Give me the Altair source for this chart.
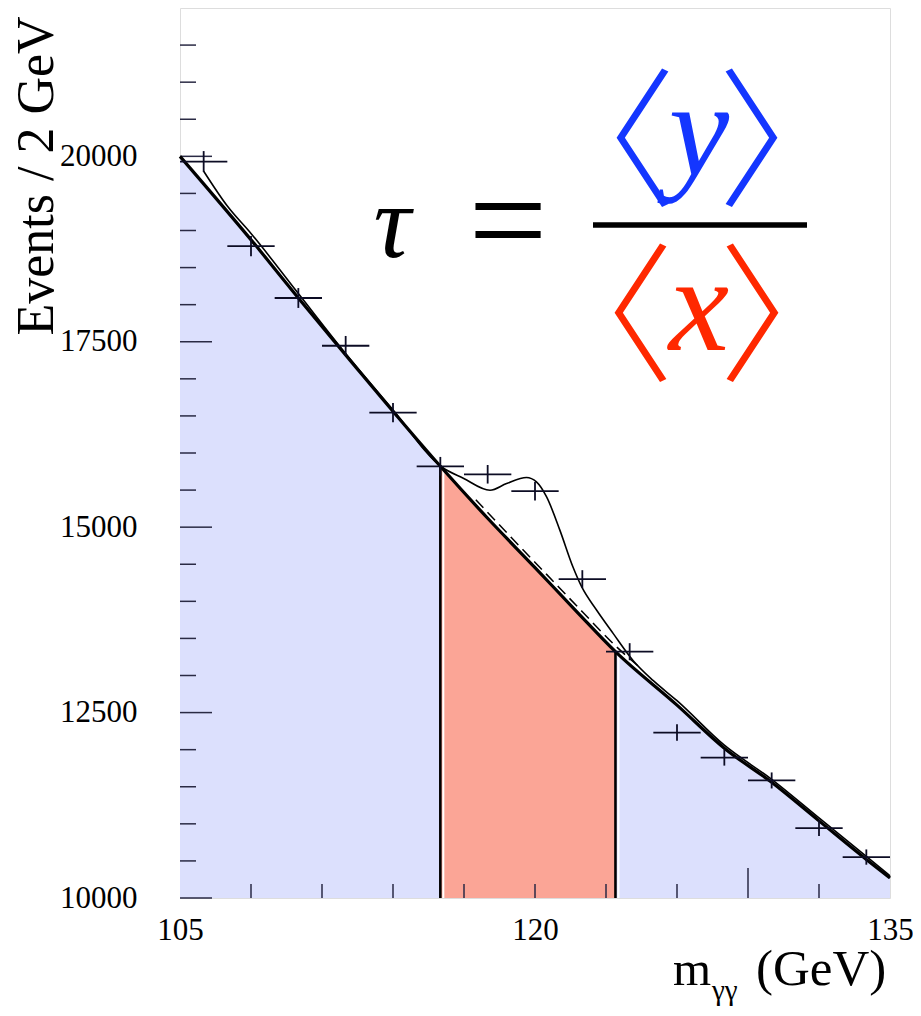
import altair as alt
import pandas as pd

# ---------------- data ----------------
bin_centers = [106, 108, 110, 112, 114, 116, 118, 120, 122, 124, 126, 128, 130, 132, 134]
counts = [19930, 18790, 18090, 17446, 16544, 15821, 15713, 15485, 14300, 13321, 12231, 11894, 11585, 10942, 10552]
errors = [141, 137, 134, 132, 129, 126, 125, 124, 120, 115, 111, 109, 108, 105, 103]
half_bin = 1.0

bkg_x = [105, 108.4, 110, 112.2, 116, 118, 120, 121.8, 123.4, 126, 128, 130, 132, 134, 135]
bkg_y = [20000, 18721, 18090, 17244, 15821, 15120, 14455, 13849, 13321, 12600, 12020, 11560, 11040, 10520, 10270]

sb_x = [106, 107, 108, 110, 112, 114, 116.06, 116.97, 118.1, 118.8, 119.64, 120.06, 120.49,
        121.05, 121.6, 121.97, 122.6, 123.3, 124.15, 125, 126, 128, 130, 132, 134, 135]
sb_y = [19800, 19330, 18960, 18150, 17340, 16580, 15811, 15660, 15498, 15588, 15669, 15610, 15408,
        14960, 14466, 14197, 13883, 13568, 13200, 12930, 12660, 12060, 11600, 11080, 10560, 10300]

dash_x = [117.5, 119, 120.5, 122, 123.4, 124.5]
dash_y = [15370, 14860, 14360, 13860, 13400, 13090]

window_lo = 116
window_hi = 123.4

x_labels = [105, 120, 135]
y_labels = [10000, 12500, 15000, 17500, 20000]
y_minor = [10500, 11000, 11500, 12000, 13000, 13500, 14000, 14500, 15500, 16000, 16500,
           17000, 18000, 18500, 19000, 19500, 20500, 21000, 21500]
x_minor = [108, 111, 114, 117, 120, 123, 126, 132]
x_long = [129]

Y_MIN, Y_MAX = 10000, 22000
W, H = 710, 890

BLUE_FILL = "#dce0fd"
RED_FILL = "#fba596"
BLUE_TXT = "#1436ff"
RED_TXT = "#ff2800"
INK = "#0c0c24"
SERIF = "Liberation Serif"
CJK = "Noto Sans CJK JP"

# ---------------- tables ----------------
bkg = pd.DataFrame({"x": bkg_x, "y": bkg_y})
bkg["base"] = Y_MIN
sb = pd.DataFrame({"x": sb_x, "y": sb_y})
dash = pd.DataFrame({"x": dash_x, "y": dash_y})
pts = pd.DataFrame({"x": bin_centers, "y": counts, "e": errors})
pts["xl"] = pts["x"] - half_bin
pts["xr"] = pts["x"] + half_bin
pts["yl"] = pts["y"] - pts["e"]
pts["yh"] = pts["y"] + pts["e"]
bounds = pd.DataFrame({
    "x": [window_lo, window_hi],
    "y": [bkg_y[bkg_x.index(window_lo)], bkg_y[bkg_x.index(window_hi)]],
})
bounds["base"] = Y_MIN

xs = alt.Scale(domain=[105, 135], nice=False, zero=False)
ys = alt.Scale(domain=[Y_MIN, Y_MAX], nice=False, zero=False)

X = alt.X("x:Q", scale=xs,
          axis=alt.Axis(values=x_labels, title=None, ticks=False, domain=False, grid=False,
                        labelFont=SERIF, labelFontSize=31, labelColor="black",
                        labelPadding=17, labelFlush=False, format="d"))
Y = alt.Y("y:Q", scale=ys,
          axis=alt.Axis(values=y_labels, title=None, ticks=False, domain=False, grid=False,
                        labelFont=SERIF, labelFontSize=31, labelColor="black",
                        labelPadding=43, labelFlush=False, format="d"))

area_left = alt.Chart(bkg).transform_filter(alt.datum.x <= window_lo).mark_area(
    color=BLUE_FILL, interpolate="monotone").encode(x=X, y=Y, y2="base:Q")
area_red = alt.Chart(bkg).transform_filter(
    (alt.datum.x >= window_lo) & (alt.datum.x <= window_hi)).mark_area(
    color=RED_FILL, interpolate="monotone").encode(x="x:Q", y="y:Q", y2="base:Q")
area_right = alt.Chart(bkg).transform_filter(alt.datum.x >= window_hi).mark_area(
    color=BLUE_FILL, interpolate="monotone").encode(x="x:Q", y="y:Q", y2="base:Q")

# ticks (drawn inward)
ytick_major = alt.Chart(pd.DataFrame({"y": y_labels})).mark_rule(
    color="#2a2a44", strokeWidth=1.5).encode(y="y:Q", x=alt.value(0), x2=alt.value(32))
ytick_minor = alt.Chart(pd.DataFrame({"y": y_minor})).mark_rule(
    color="#2a2a44", strokeWidth=1.5).encode(y="y:Q", x=alt.value(0), x2=alt.value(16))
xtick_minor = alt.Chart(pd.DataFrame({"x": x_minor})).mark_rule(
    color="#2a2a44", strokeWidth=1.5).encode(x="x:Q", y=alt.value(H), y2=alt.value(H - 14))
xtick_long = alt.Chart(pd.DataFrame({"x": x_long})).mark_rule(
    color="#2a2a44", strokeWidth=1.5).encode(x="x:Q", y=alt.value(H), y2=alt.value(H - 30))

bound_black = alt.Chart(bounds).mark_rule(color="black", strokeWidth=2.6).encode(
    x="x:Q", y="base:Q", y2="y:Q")
bound_white = alt.Chart(bounds).mark_rule(color="white", strokeWidth=2, xOffset=3).encode(
    x="x:Q", y="base:Q", y2="y:Q")

bkg_line = alt.Chart(bkg).mark_line(color="black", strokeWidth=3.2, interpolate="monotone").encode(
    x="x:Q", y="y:Q")
dash_line = alt.Chart(dash).mark_line(color="black", strokeWidth=1.5, strokeDash=[11, 6],
                                      interpolate="monotone").encode(x="x:Q", y="y:Q")
sb_line = alt.Chart(sb).mark_line(color="black", strokeWidth=1.6, interpolate="monotone").encode(
    x="x:Q", y="y:Q")

err_h = alt.Chart(pts).mark_rule(color=INK, strokeWidth=1.8).encode(
    x="xl:Q", x2="xr:Q", y="y:Q")
err_v = alt.Chart(pts).mark_rule(color=INK, strokeWidth=1.8).encode(
    x="x:Q", y="yl:Q", y2="yh:Q")

one = pd.DataFrame({"k": [0]})


def txt(s, x, y, size, color="black", font=SERIF, style="normal", align="center",
        angle=0, weight="normal"):
    return alt.Chart(one).mark_text(
        text=s, font=font, fontSize=size, fontStyle=style, color=color, align=align,
        baseline="alphabetic", angle=angle, fontWeight=weight
    ).encode(x=alt.value(x), y=alt.value(y))


# axis titles
y_title = txt("Events / 2 GeV", -127, 168, 52, angle=270)
x_m = txt("m", 493, 977, 49, align="left")
x_sub = txt("γγ", 532, 992, 29, align="left")
x_gev = txt("(GeV)", 576, 977, 51, align="left")

# formula  tau = <y>/<x>
tau = txt("τ", 212, 249, 104, style="italic")
eq = txt("=", 328, 259, 140)
frac = alt.Chart(one).mark_rule(color="black", strokeWidth=5.5).encode(
    x=alt.value(413), x2=alt.value(627), y=alt.value(217))
num = txt("y", 519, 167, 136, color=BLUE_TXT, style="italic")
den = txt("x", 519, 342, 136, color=RED_TXT, style="italic")
lb_b = txt("〈", 421, 187, 150, color=BLUE_TXT, font=CJK, weight=300)
rb_b = txt("〉", 613, 187, 150, color=BLUE_TXT, font=CJK, weight=300)
lb_r = txt("〈", 419, 362, 150, color=RED_TXT, font=CJK, weight=300)
rb_r = txt("〉", 614, 362, 150, color=RED_TXT, font=CJK, weight=300)

chart = alt.layer(
    area_left, area_red, area_right,
    ytick_major, ytick_minor, xtick_minor, xtick_long,
    bound_black, bound_white,
    bkg_line, dash_line, sb_line,
    err_h, err_v,
    y_title, x_m, x_sub, x_gev,
    tau, eq, frac, num, den, lb_b, rb_b, lb_r, rb_r,
).properties(
    width=W, height=H,
    autosize=alt.AutoSizeParams(type="none"),
    padding={"left": 172, "top": 0, "right": 23, "bottom": 110},
).configure_view(
    stroke="black", strokeWidth=2.5
).configure_axis(
    labelFont=SERIF, labelFontSize=31, labelColor="black"
).configure(background="white")

chart.save("out.html", embed_options={"renderer": "svg", "actions": False})
